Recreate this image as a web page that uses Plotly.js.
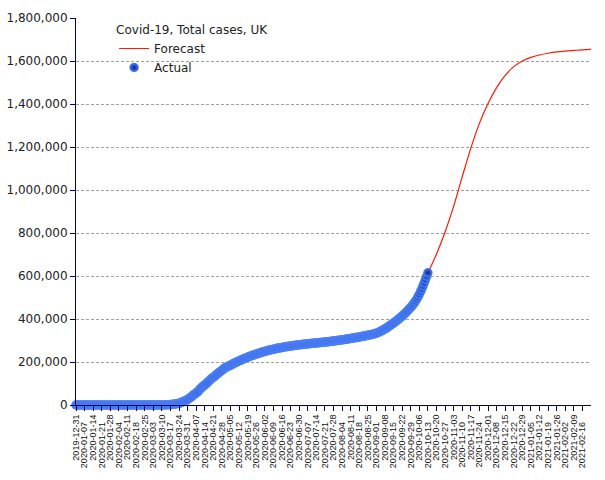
<!DOCTYPE html>
<html>
<head>
<meta charset="utf-8">
<script src="https://cdn.plot.ly/plotly-3.0.1.min.js"></script>
<style>html,body{margin:0;padding:0;background:#fff;}#chart{width:605px;height:480px;}</style>
</head>
<body>
<div id="chart"></div>
<script>
// ---- DATA ----
const chartTitle = "Covid-19, Total cases, UK";
const seriesNames = ["Forecast", "Actual"];

// Actual: daily cumulative cases starting on this date
const actualStart = "2019-12-31";
const actualDec31Jan = [0,0,0,0,0,0,0,0,0,0,0,0,0,0,0,0,0,0,0,0,0,0,0,0,0,0,0,0,0,0,0,2];
const actualFeb = [2,2,2,2,2,2,2,2,2,8,8,9,9,9,9,9,9,9,9,9,9,9,9,9,13,13,15,20,23];
const actualMar = [36,40,51,85,115,163,206,273,321,382,456,590,798,1140,1391,1543,1950,2626,3269,3983,5018,5683,6650,8077,9529,11658,14543,17089,19522,22141,25150];
const actualApr = [29474,33718,38168,41903,47806,51608,55242,60733,65077,73758,78991,84279,88621,93873,98476,103093,108692,114217,120067,124743,129044,133495,138078,143464,148377,152840,157149,161145,165221,171253];
const actualMay = [174000,177000,179800,182400,185000,188000,191200,194300,197200,199800,202300,204900,207600,210300,213000,215600,218000,220300,222600,224800,226900,229000,231100,233100,235000,236800,238700,240600,242500,244300,246000];
const actualJun = [247700,249400,251000,252600,254100,255600,257000,258300,259600,260900,262200,263400,264600,265700,266800,267800,268800,269800,270800,271700,272600,273500,274400,275200,276000,276800,277600,278400,279100,279800];
const actualJul = [280500,281200,281900,282600,283200,283800,284400,285000,285600,286200,286800,287400,288000,288600,289200,289800,290400,291000,291600,292200,292800,293400,294000,294700,295400,296100,296800,297500,298300,299100,299900];
const actualAug = [300700,301500,302300,303100,304000,304900,305800,306700,307600,308500,309500,310500,311500,312500,313500,314500,315500,316500,317500,318500,319600,320700,321800,322900,324100,325300,326600,327900,329300,330700,332100];
const actualSep = [334000,336000,338500,341500,344500,347500,350800,354200,357800,361500,365300,369200,373200,377300,381500,385800,390200,394700,399300,404000,408800,413800,419000,424400,430000,435800,441800,448000,454500,461300];
const actualOct = [468500,476000,484500,494000,504000,515000,527000,540000,554000,568500,583500,599000,615000];

// Forecast: weekly points
const forecastDates = ["2020-10-13","2020-10-20","2020-10-27","2020-11-03","2020-11-10","2020-11-17","2020-11-24","2020-12-01","2020-12-08","2020-12-15","2020-12-22","2020-12-29","2021-01-05","2021-01-12","2021-01-19","2021-01-26","2021-02-02","2021-02-09","2021-02-16","2021-02-23"];
const forecastValues = [615000,702000,805000,925000,1062000,1195000,1310000,1402000,1476000,1533000,1574000,1600000,1617000,1628000,1636000,1642000,1646000,1649000,1652000,1654000];

// X tick labels (weekly)
const tickLabels = ["2019-12-31","2020-01-07","2020-01-14","2020-01-21","2020-01-28","2020-02-04","2020-02-11","2020-02-18","2020-02-25","2020-03-03","2020-03-10","2020-03-17","2020-03-24","2020-03-31","2020-04-07","2020-04-14","2020-04-21","2020-04-28","2020-05-05","2020-05-12","2020-05-19","2020-05-26","2020-06-02","2020-06-09","2020-06-16","2020-06-23","2020-06-30","2020-07-07","2020-07-14","2020-07-21","2020-07-28","2020-08-04","2020-08-11","2020-08-18","2020-08-25","2020-09-01","2020-09-08","2020-09-15","2020-09-22","2020-09-29","2020-10-06","2020-10-13","2020-10-20","2020-10-27","2020-11-03","2020-11-10","2020-11-17","2020-11-24","2020-12-01","2020-12-08","2020-12-15","2020-12-22","2020-12-29","2021-01-05","2021-01-12","2021-01-19","2021-01-26","2021-02-02","2021-02-09","2021-02-16"];
const xRange = ["2019-12-31", "2021-02-23"];
const yRange = [0, 1800000];

// ---- BUILD ----
const actualValues = [].concat(actualDec31Jan, actualFeb, actualMar, actualApr, actualMay, actualJun, actualJul, actualAug, actualSep, actualOct);
function dayStr(start, i) {
  const d = new Date(start + "T00:00:00Z");
  d.setUTCDate(d.getUTCDate() + i);
  return d.toISOString().slice(0, 10);
}
const actualDates = actualValues.map((v, i) => dayStr(actualStart, i));
const tickText = tickLabels.map((t, i) => i % 2 === 1 ? t + "\u00a0\u00a0\u00a0" : t);

const navy = "#000066";
const traces = [
  {
    type: "scatter", mode: "lines", name: seriesNames[0],
    x: forecastDates, y: forecastValues,
    line: {color: "#ff1a00", width: 1.2, shape: "spline", smoothing: 1},
    hoverinfo: "skip"
  },
  {
    type: "scatter", mode: "markers", name: seriesNames[1],
    x: actualDates, y: actualValues,
    cliponaxis: false,
    marker: {size: 9.5, color: "#4f86ff", line: {width: 0},
      gradient: {type: "radial", color: "#06208c"}},
    hoverinfo: "skip"
  }
];

const layout = {
  width: 605, height: 480,
  margin: {l: 76, r: 14, t: 18, b: 75, pad: 0},
  paper_bgcolor: "#ffffff", plot_bgcolor: "#ffffff",
  font: {family: "DejaVu Sans, sans-serif", size: 12, color: "#222"},
  showlegend: true,
  legend: {
    x: 0.074, y: 0.999, xanchor: "left", yanchor: "top",
    bgcolor: "rgba(0,0,0,0)", borderwidth: 0,
    title: {text: chartTitle, font: {family: "DejaVu Sans, sans-serif", size: 12, color: "#222"}},
    font: {family: "DejaVu Sans, sans-serif", size: 12, color: "#222"},
    itemwidth: 30, tracegroupgap: 0
  },
  xaxis: {
    type: "date", range: xRange,
    tickmode: "array", tickvals: tickLabels, ticktext: tickText,
    tickangle: -90,
    tickfont: {family: "Liberation Sans, Arial, sans-serif", size: 9, color: "#111"},
    ticks: "outside", ticklen: 5, tickcolor: navy, tickwidth: 1,
    showline: true, linecolor: navy, linewidth: 1,
    showgrid: false, zeroline: false, fixedrange: true
  },
  yaxis: {
    range: yRange, dtick: 200000, tick0: 0, tickformat: ",d",
    tickfont: {family: "DejaVu Sans, sans-serif", size: 12, color: "#222"},
    ticks: "outside", ticklen: 5, tickcolor: navy, tickwidth: 1,
    showline: true, linecolor: navy, linewidth: 1,
    showgrid: true, gridcolor: "#a0a0a0", gridwidth: 1, griddash: "3px,2px",
    zeroline: false, fixedrange: true
  }
};

Plotly.newPlot("chart", traces, layout, {staticPlot: true, displayModeBar: false});
</script>
</body>
</html>
